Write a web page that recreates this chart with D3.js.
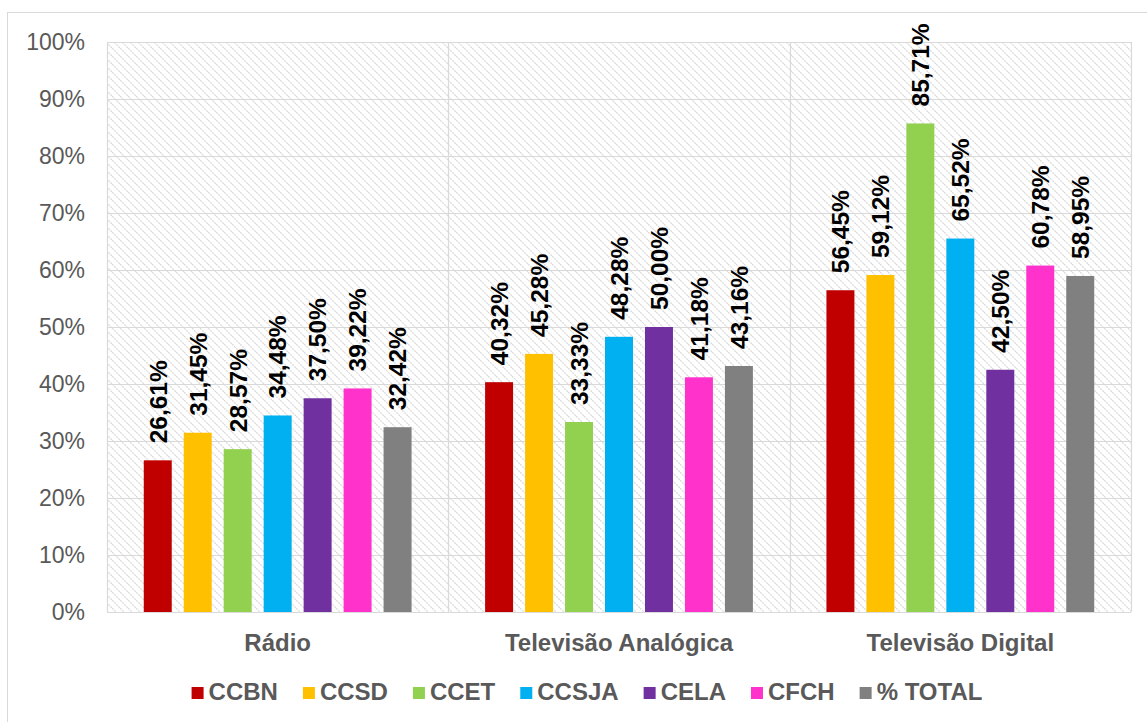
<!DOCTYPE html>
<html>
<head>
<meta charset="utf-8">
<script src="https://cdn.jsdelivr.net/npm/d3@7/dist/d3.min.js"></script>
<style>
  html, body { margin: 0; padding: 0; background: #ffffff; }
  svg { display: block; font-family: "Liberation Sans", Arial, sans-serif; }
</style>
</head>
<body>
<svg id="chart" width="1147" height="722"></svg>
<script>
// Media categories on the x axis
const categories = ["Rádio", "Televisão Analógica", "Televisão Digital"];

// Series (one per centre plus the overall total)
const seriesNames = ["CCBN", "CCSD", "CCET", "CCSJA", "CELA", "CFCH", "% TOTAL"];
const seriesColors = ["#C00000", "#FFC000", "#92D050", "#00B0F0", "#7030A0", "#FF33CC", "#808080"];

// Percentages per series, in category order
const ccbn   = [26.61, 40.32, 56.45];
const ccsd   = [31.45, 45.28, 59.12];
const ccet   = [28.57, 33.33, 85.71];
const ccsja  = [34.48, 48.28, 65.52];
const cela   = [37.50, 50.00, 42.50];
const cfch   = [39.22, 41.18, 60.78];
const total  = [32.42, 43.16, 58.95];
const seriesValues = [ccbn, ccsd, ccet, ccsja, cela, cfch, total];

// Y axis tick values (fractions)
const yTicks = [0, 0.1, 0.2, 0.3, 0.4, 0.5, 0.6, 0.7, 0.8, 0.9, 1.0];

const svg = d3.select("#chart");
const plot = { left: 107, right: 1131, top: 42, bottom: 612 };
const textColor = "#595959";
const gridColor = "#d9d9d9";

// Outer chart frame
svg.append("rect")
  .attr("x", 7.5).attr("y", 12.5)
  .attr("width", 1160).attr("height", 740)
  .attr("fill", "#ffffff")
  .attr("stroke", gridColor).attr("stroke-width", 1);

// Downward diagonal hatch for the plot background
const defs = svg.append("defs");
const pat = defs.append("pattern")
  .attr("id", "hatch")
  .attr("patternUnits", "userSpaceOnUse")
  .attr("width", 8).attr("height", 8);
pat.append("rect").attr("width", 8).attr("height", 8).attr("fill", "#ffffff");
pat.append("path")
  .attr("d", "M-2,-2 L10,10 M-2,6 L2,10 M6,-2 L10,2")
  .attr("stroke", "#dcdcdc").attr("stroke-width", 1.3)
  .attr("stroke-dasharray", "2,1");

svg.append("rect")
  .attr("x", plot.left).attr("y", plot.top)
  .attr("width", plot.right - plot.left).attr("height", plot.bottom - plot.top)
  .attr("fill", "url(#hatch)");

// Scales
const y = d3.scaleLinear().domain([0, 1]).range([plot.bottom, plot.top]);
const x0 = d3.scaleBand().domain(categories).range([plot.left, plot.right]).paddingInner(0).paddingOuter(0);
const x1 = d3.scaleBand().domain(seriesNames).range([0, x0.bandwidth()])
  .paddingInner(0.3).paddingOuter(0.92);

// Horizontal gridlines
svg.append("g").selectAll("line").data(yTicks).join("line")
  .attr("x1", plot.left).attr("x2", plot.right)
  .attr("y1", d => Math.round(y(d)) + 0.5).attr("y2", d => Math.round(y(d)) + 0.5)
  .attr("stroke", gridColor).attr("stroke-width", 1.2);

// Vertical category separators and plot frame
const bounds = categories.map(c => x0(c)).concat([plot.right]);
svg.append("g").selectAll("line").data(bounds).join("line")
  .attr("x1", d => Math.round(d) + 0.5).attr("x2", d => Math.round(d) + 0.5)
  .attr("y1", plot.top).attr("y2", plot.bottom)
  .attr("stroke", gridColor).attr("stroke-width", 1.2);

// Y axis labels
const yAxis = d3.axisLeft(y).tickValues(yTicks).tickFormat(d3.format(".0%")).tickSize(0).tickPadding(22);
const gy = svg.append("g").attr("transform", `translate(${plot.left},0)`).call(yAxis);
gy.select(".domain").remove();
gy.selectAll("text")
  .attr("fill", textColor)
  .style("font-size", "23px")
  .style("font-family", "'Liberation Sans', Arial, sans-serif");

// Bars
const fmt = v => v.toFixed(2).replace(".", ",") + "%";
const bars = [];
seriesNames.forEach((s, si) => {
  categories.forEach((c, ci) => {
    bars.push({ series: s, cat: c, value: seriesValues[si][ci], color: seriesColors[si] });
  });
});

svg.append("g").selectAll("rect").data(bars).join("rect")
  .attr("x", d => x0(d.cat) + x1(d.series))
  .attr("width", x1.bandwidth())
  .attr("y", d => y(d.value / 100))
  .attr("height", d => y(0) - y(d.value / 100))
  .attr("fill", d => d.color);

// Value labels, rotated above each bar
svg.append("g").selectAll("text").data(bars).join("text")
  .attr("transform", d => `translate(${x0(d.cat) + x1(d.series) + x1.bandwidth() / 2},${y(d.value / 100) - 17}) rotate(-90)`)
  .attr("text-anchor", "start")
  .attr("dy", "0.36em")
  .attr("fill", "#000000")
  .style("font-size", "24.5px")
  .style("font-weight", "bold")
  .text(d => fmt(d.value));

// Category labels
const xAxis = d3.axisBottom(x0).tickSize(0).tickPadding(22);
const gx = svg.append("g").attr("transform", `translate(0,${plot.bottom})`).call(xAxis);
gx.select(".domain").remove();
gx.selectAll("text")
  .attr("fill", textColor)
  .style("font-size", "24px")
  .style("font-weight", "bold")
  .style("font-family", "'Liberation Sans', Arial, sans-serif");

// Legend
const legend = svg.append("g");
const items = legend.selectAll("g").data(seriesNames).join("g");
items.append("rect")
  .attr("width", 12).attr("height", 12)
  .attr("y", -13)
  .attr("fill", (d, i) => seriesColors[i]);
items.append("text")
  .attr("x", 17).attr("y", 0)
  .attr("fill", textColor)
  .style("font-size", "24px")
  .style("font-weight", "bold")
  .text(d => d);

let cursor = 0;
items.each(function () {
  const w = 17 + d3.select(this).select("text").node().getComputedTextLength();
  d3.select(this).attr("transform", `translate(${cursor},0)`);
  cursor += w + 25;
});
const legendWidth = cursor - 25;
legend.attr("transform", `translate(${587 - legendWidth / 2},700)`);
</script>
</body>
</html>
